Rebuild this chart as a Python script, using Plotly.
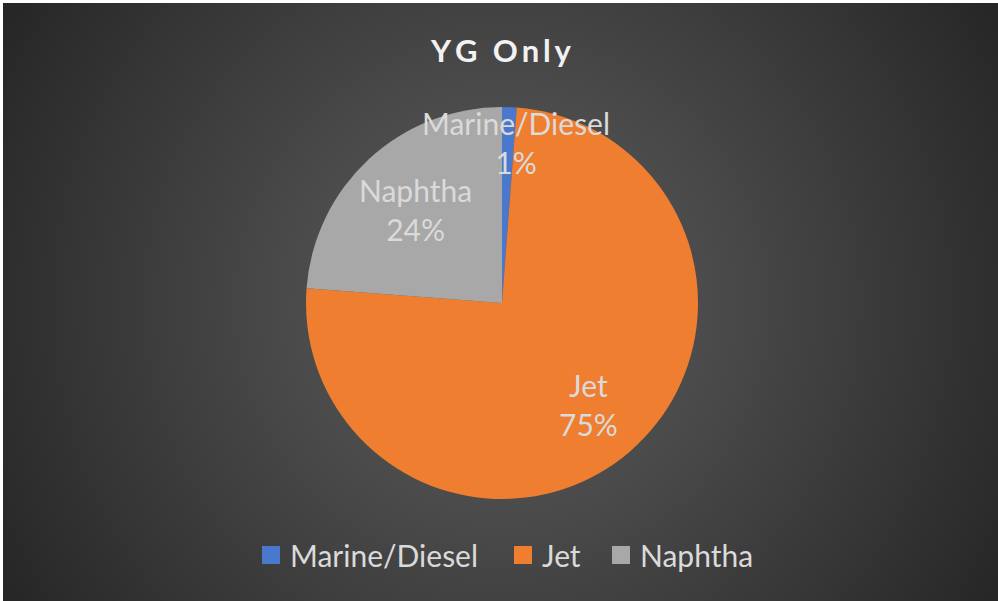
import base64
import math
import plotly.graph_objects as go

# ---- data ----
categories = ["Marine/Diesel", "Jet", "Naphtha"]
shares = [1.2, 75.0, 23.8]
title_text = "YG Only"

# ---- styling ----
slice_colors = ["#4A78CC", "#F07E30", "#A8A8A8"]
text_color = "#DADADA"
font_family = "Lato, 'Open Sans', sans-serif"

W, H = 998, 601
CX, CY, R = 502, 303, 196  # pie centre / radius in pixels


def px(x):
    return x / W


def py(y):
    return 1 - y / H


# radial background gradient as an inline SVG
svg = f"""<svg xmlns='http://www.w3.org/2000/svg' width='{W}' height='{H}' preserveAspectRatio='none'>
<defs><radialGradient id='g' gradientUnits='userSpaceOnUse' cx='{W/2}' cy='{H/2}' r='590'>
<stop offset='0' stop-color='#585858'/><stop offset='0.35' stop-color='#4b4b4b'/>
<stop offset='1' stop-color='#252525'/></radialGradient></defs>
<rect width='{W}' height='{H}' fill='url(#g)'/></svg>"""
bg_uri = "data:image/svg+xml;base64," + base64.b64encode(svg.encode()).decode()

fig = go.Figure(
    go.Pie(
        labels=categories,
        values=shares,
        sort=False,
        direction="clockwise",
        rotation=0,
        marker=dict(colors=slice_colors, line=dict(width=0)),
        textinfo="none",
        hoverinfo="label+percent",
        showlegend=False,
        domain=dict(x=[px(CX - R), px(CX + R)], y=[py(CY + R), py(CY - R)]),
    )
)

# slice labels placed along each slice's mid-angle
total = sum(shares)
radial_frac = [0.82, 0.68, 0.65]
x_nudge = [8, 0, 0]
annotations = []
cum = 0.0
for name, v, f, dx in zip(categories, shares, radial_frac, x_nudge):
    mid = (cum + v / 2) / total * 2 * math.pi
    cum += v
    lx = CX + R * f * math.sin(mid) + dx
    ly = CY - R * f * math.cos(mid)
    pct = round(v / total * 100)
    annotations.append(dict(
        x=px(lx), y=py(ly), xref="paper", yref="paper",
        text=f"{name}<br>{pct}%", showarrow=False,
        font=dict(family=font_family, size=30, color=text_color),
        xanchor="center", yanchor="middle",
    ))

# title, letter-spaced with thin spaces
spaced_title = "\u2009".join(title_text)
annotations.append(dict(
    x=px(501), y=py(50), xref="paper", yref="paper",
    text=f"<b>{spaced_title}</b>", showarrow=False,
    font=dict(family=font_family, size=31, color="#F2F2F2"),
    xanchor="center", yanchor="middle",
))

# legend: coloured squares followed by the category names
legend_x = [262, 514, 612]
legend_y = 555
shapes = []
for name, color, lx in zip(categories, slice_colors, legend_x):
    shapes.append(dict(
        type="rect", xref="paper", yref="paper",
        x0=px(lx), x1=px(lx + 18), y0=py(legend_y + 9), y1=py(legend_y - 9),
        fillcolor=color, line=dict(width=0),
    ))
    annotations.append(dict(
        x=px(lx + 26), y=py(legend_y), xref="paper", yref="paper",
        text=name, showarrow=False,
        font=dict(family=font_family, size=30, color=text_color),
        xanchor="left", yanchor="middle",
    ))

fig.update_layout(
    width=W, height=H,
    margin=dict(l=0, r=0, t=0, b=0),
    paper_bgcolor="#FFFFFF",
    images=[dict(
        source=bg_uri, xref="paper", yref="paper",
        x=px(3), y=py(3), sizex=1.0, sizey=1.0,
        xanchor="left", yanchor="top", sizing="stretch", layer="below",
    )],
    annotations=annotations,
    shapes=shapes,
)

fig.write_html("out.html")
